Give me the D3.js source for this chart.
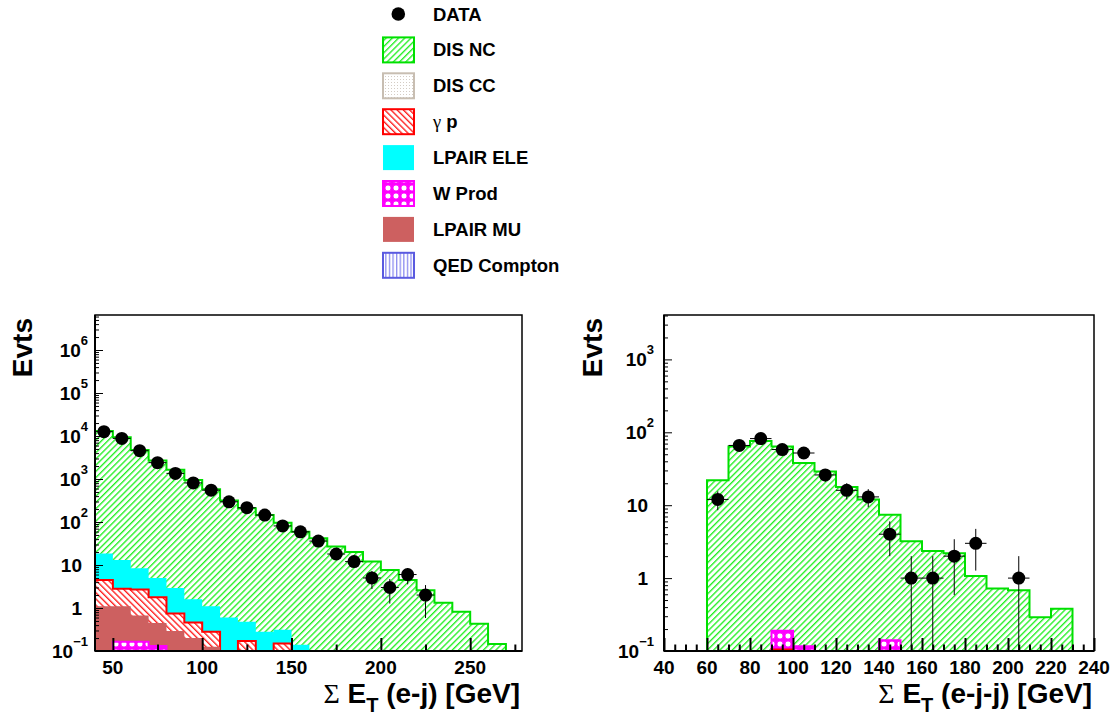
<!DOCTYPE html>
<html><head><meta charset="utf-8">
<script src="https://cdn.jsdelivr.net/npm/d3@7"></script>
<style>
body{margin:0;background:#fff}
text{font-family:"Liberation Sans",Arial,sans-serif;font-weight:bold;fill:#000}
</style>
</head><body>
<svg id="c" width="1112" height="715"></svg>
<script>
// ---------------- DATA ----------------
// Left panel: Sum E_T (e-j), 10 GeV bins. Histogram values are stacked (cumulative) heights.
const leftBinLow = [40,50,60,70,80,90,100,110,120,130,140,150,160,170,180,190,200,210,220,230,240,250,260];
const leftStackNC = [13000,9300,4700,2700,1650,950,580,316,210,145,96,59,42,27,20,12,7.7,4.5,2.6,1.33,0.82,0.43,0.146];
const leftStackLpairEle = [18.6,13,8.4,5,2.9,1.6,1.1,0.6,0.48,0.28,0.31,0.14,0,0,0,0,0,0,0,0,0,0,0];
const leftStackGammaP = [4.5,2.8,2.7,1.77,0.74,0.46,0.28,0,0.17,0,0.15,0,0,0,0,0,0,0,0,0,0,0,0];
const leftStackLpairMu = [1.1,1.1,0.67,0.45,0.29,0.2,0.125,0,0,0,0,0,0,0,0,0,0,0,0,0,0,0,0];
const leftStackWProd = [0,0.165,0.165,0.13,0,0,0,0,0,0,0,0,0,0,0,0,0,0,0,0,0,0,0];
const leftDataX = [45,55,65,75,85,95,105,115,125,135,145,155,165,175,185,195,205,215,225];
const leftDataY = [12600,8800,4550,2400,1350,810,550,295,215,145,81,59,36,18,12,5,3,6,2];

// Right panel: Sum E_T (e-j-j)
const rightBinLow = [60,70,80,90,100,110,120,130,140,150,160,170,180,190,200,210,220];
const rightStackNC = [22,64,76,64,38,29,17.8,12,7.4,3.2,2.35,2.2,1.07,0.72,0.68,0.29,0.38];
const rightStackWProd = [0,0,0,0.19,0.116,0,0,0,0.14,0,0,0,0,0,0,0,0];
const rightStackGammaP = [0,0,0,0.105,0,0,0,0,0,0,0,0,0,0,0,0,0];
const rightDataX = [65,75,85,95,105,115,125,135,145,155,165,175,185,205];
const rightDataY = [12,66,82,58,52,26,16,13,4,1,1,2,3,1];

// Axis ticks / labels
const leftXTicks = [50,100,150,200,250];
const leftXMinor = [75,125,175,225,275];
const rightXTicks = [40,60,80,100,120,140,160,180,200,220,240];
const leftYPowers = [-1,0,1,2,3,4,5,6];
const rightYPowers = [-1,0,1,2,3];
const legendLabels = ["DATA","DIS NC","DIS CC","γ p","LPAIR ELE","W Prod","LPAIR MU","QED Compton"];

// ---------------- DRAWING ----------------
const svg = d3.select("#c");
const defs = svg.append("defs");

function stripes(id, color, angle, period, thick) {
  const p = defs.append("pattern").attr("id", id).attr("patternUnits","userSpaceOnUse")
    .attr("width", period).attr("height", period)
    .attr("patternTransform", `rotate(${angle})`);
  p.append("rect").attr("width",period).attr("height",period).attr("fill","#ffffff");
  p.append("rect").attr("x",0).attr("y",0).attr("width",thick).attr("height",period).attr("fill",color);
}
stripes("hNC", "#22f022", 45, 4.4, 1.35);
stripes("hGP", "#ff1a1a", -45, 4.4, 1.35);
stripes("hQED", "#8c8cf0", 0, 3.6, 1.3);
{
  const p = defs.append("pattern").attr("id","hCC").attr("patternUnits","userSpaceOnUse").attr("width",3).attr("height",3);
  p.append("rect").attr("width",3).attr("height",3).attr("fill","#ffffff");
  p.append("rect").attr("x",1).attr("y",1).attr("width",1).attr("height",1).attr("fill","#d4ccc4");
}
{
  const p = defs.append("pattern").attr("id","hW").attr("patternUnits","userSpaceOnUse").attr("width",8).attr("height",8);
  p.append("rect").attr("width",8).attr("height",8).attr("fill","#ff00ff");
  p.append("circle").attr("cx",4).attr("cy",4).attr("r",3).attr("fill","#ffffff").attr("stroke","#ff00ff").attr("stroke-width",0.8);
}

const styles = {
  nc:   {fill:"url(#hNC)", stroke:"#00e000"},
  ele:  {fill:"#00ffff", stroke:null},
  gp:   {fill:"url(#hGP)", stroke:"#ff0000"},
  mu:   {fill:"#cd6060", stroke:null},
  w:    {fill:"url(#hW)", stroke:"#ff00ff"},
  cc:   {fill:"url(#hCC)", stroke:"#c8beb2"},
  qed:  {fill:"url(#hQED)", stroke:"#5a5ae0"}
};

function drawPanel(cfg, id) {
  const x = d3.scaleLinear().domain(cfg.xDomain).range([cfg.left, cfg.right]);
  const y = d3.scaleLog().domain(cfg.yDomain).range([cfg.bottom, cfg.top]);
  const ymin = cfg.yDomain[0];
  defs.append("clipPath").attr("id","clip"+id).append("rect")
    .attr("x",cfg.left).attr("y",cfg.top).attr("width",cfg.right-cfg.left).attr("height",cfg.bottom-cfg.top);
  const g = svg.append("g");
  const plot = g.append("g").attr("clip-path",`url(#clip${id})`);

  const line = d3.line().x(d=>x(d[0])).y(d=>y(d[1])).curve(d3.curveStepAfter);
  function pts(vals) {
    const n = cfg.binLow.length;
    const hi = cfg.binLow[n-1] + cfg.binWidth;
    const p = [[cfg.binLow[0], ymin]];
    cfg.binLow.forEach((lo,i)=>p.push([lo, Math.max(vals[i], ymin)]));
    p.push([hi, Math.max(vals[n-1], ymin)]);
    p.push([hi, ymin]);
    return p;
  }
  cfg.series.forEach(s => {
    const st = styles[s.style];
    plot.append("path").attr("d", line(pts(s.values)) + "Z")
      .attr("fill", st.fill)
      .attr("stroke", st.stroke || "none")
      .attr("stroke-width", 2).attr("stroke-linejoin","miter");
  });

  // data points with errors
  const dg = plot.append("g");
  cfg.dataX.forEach((xv,i) => {
    const n = cfg.dataY[i], e = Math.sqrt(n);
    const lo = Math.max(n - e, ymin), hi = n + e;
    dg.append("line").attr("x1",x(xv)).attr("x2",x(xv)).attr("y1",y(lo)).attr("y2",y(hi))
      .attr("stroke","#000").attr("stroke-width",1);
    dg.append("line").attr("x1",x(xv-cfg.binWidth/2)).attr("x2",x(xv+cfg.binWidth/2))
      .attr("y1",y(n)).attr("y2",y(n)).attr("stroke","#000").attr("stroke-width",1);
  });
  dg.selectAll("circle").data(cfg.dataX).join("circle")
    .attr("cx", d=>x(d)).attr("cy",(d,i)=>y(cfg.dataY[i])).attr("r",6.5).attr("fill","#000");

  // frame
  g.append("rect").attr("x",cfg.left).attr("y",cfg.top).attr("width",cfg.right-cfg.left)
    .attr("height",cfg.bottom-cfg.top).attr("fill","none").attr("stroke","#000").attr("stroke-width",1.5);

  // y ticks (inside)
  const allY = y.ticks();
  const majY = cfg.yPowers.map(p=>Math.pow(10,p));
  const minY = allY.filter(v => !majY.some(m => Math.abs(m - v)/m < 1e-6));
  const axY1 = d3.axisLeft(y).tickValues(minY).tickSize(-4).tickSizeOuter(0).tickFormat("");
  const axY2 = d3.axisLeft(y).tickValues(majY).tickSize(-8).tickSizeOuter(0).tickFormat("");
  [axY1, axY2].forEach(ax => {
    const a = g.append("g").attr("transform",`translate(${cfg.left},0)`).call(ax);
    a.select(".domain").remove();
    a.selectAll("line").attr("stroke","#000").attr("stroke-width",1);
  });
  // x ticks (inside)
  const axX1 = d3.axisBottom(x).tickValues(cfg.xMinor).tickSize(-6.5).tickSizeOuter(0).tickFormat("");
  const axX2 = d3.axisBottom(x).tickValues(cfg.xTicks).tickSize(-13).tickSizeOuter(0).tickFormat("");
  [axX1, axX2].forEach(ax => {
    const a = g.append("g").attr("transform",`translate(0,${cfg.bottom})`).call(ax);
    a.select(".domain").remove();
    a.selectAll("line").attr("stroke","#000").attr("stroke-width",2);
  });
  // axis lines
  g.append("line").attr("x1",cfg.left).attr("x2",cfg.right).attr("y1",cfg.bottom).attr("y2",cfg.bottom)
    .attr("stroke","#000").attr("stroke-width",2);
  g.append("line").attr("x1",cfg.left).attr("x2",cfg.left).attr("y1",cfg.top).attr("y2",cfg.bottom)
    .attr("stroke","#000").attr("stroke-width",2);

  // x tick labels
  g.selectAll(".xl").data(cfg.xTicks).join("text")
    .attr("x", d=>x(d)).attr("y", cfg.bottom + 23).attr("text-anchor","middle")
    .attr("font-size",19).text(d=>d);
  // y tick labels
  cfg.yPowers.forEach(p => {
    const yy = y(Math.pow(10,p));
    if (p === 0 || p === 1) {
      g.append("text").attr("x", cfg.plainEnd).attr("y", yy + 6.5).attr("text-anchor","end")
        .attr("font-size",19).text(p === 0 ? "1" : "10");
    } else {
      const t = g.append("text").attr("x", cfg.supEnd).attr("y", yy + 6.5).attr("text-anchor","end")
        .attr("font-size",19);
      t.append("tspan").text("10");
      t.append("tspan").attr("dy",-11.5).attr("font-size",13).text(String(p).replace("-","−"));
    }
  });
  // y title
  svg.append("text").attr("transform",`translate(${cfg.ytitleX},318) rotate(-90)`)
    .attr("text-anchor","end").attr("font-size",28).text("Evts");
  // x title
  const xt = svg.append("text").attr("x", cfg.xtitleEnd).attr("y", 703).attr("text-anchor","end").attr("font-size",28);
  xt.append("tspan").attr("font-family","'Liberation Serif',serif").attr("font-weight","normal").text("Σ");
  xt.append("tspan").text(" E");
  xt.append("tspan").attr("font-size",20).attr("dy",9).text("T");
  xt.append("tspan").attr("dy",-9).text(" " + cfg.xtitleRest);
}

drawPanel({
  left:95, right:522, top:315, bottom:651,
  xDomain:[40,279], yDomain:[0.1, Math.pow(10,6.814)],
  binLow:leftBinLow, binWidth:10,
  series:[
    {style:"nc", values:leftStackNC},
    {style:"ele", values:leftStackLpairEle},
    {style:"gp", values:leftStackGammaP},
    {style:"mu", values:leftStackLpairMu},
    {style:"w", values:leftStackWProd}
  ],
  dataX:leftDataX, dataY:leftDataY,
  xTicks:leftXTicks, xMinor:leftXMinor, yPowers:leftYPowers,
  plainEnd:82, supEnd:88, ytitleX:32, xtitleEnd:520, xtitleRest:"(e-j) [GeV]"
}, 1);

const rightMinor = d3.range(45, 240, 5).filter(v => v % 20 !== 0);
drawPanel({
  left:664, right:1094, top:315, bottom:651,
  xDomain:[40,240], yDomain:[0.1, Math.pow(10,3.609)],
  binLow:rightBinLow, binWidth:10,
  series:[
    {style:"nc", values:rightStackNC},
    {style:"w", values:rightStackWProd},
    {style:"gp", values:rightStackGammaP}
  ],
  dataX:rightDataX, dataY:rightDataY,
  xTicks:rightXTicks, xMinor:rightMinor, yPowers:rightYPowers,
  plainEnd:648, supEnd:654, ytitleX:602, xtitleEnd:1092, xtitleRest:"(e-j-j) [GeV]"
}, 2);

// ---------------- LEGEND ----------------
const legendStyles = [null,"nc","cc","gp","ele","w","mu","qed"];
const lg = svg.append("g");
legendLabels.forEach((lab,i) => {
  const cy = 14 + i*35.9;
  if (i === 0) {
    lg.append("circle").attr("cx",398.3).attr("cy",cy).attr("r",6.8).attr("fill","#000");
  } else {
    const st = styles[legendStyles[i]];
    lg.append("rect").attr("x",383).attr("y",cy-12.5).attr("width",31).attr("height",25)
      .attr("fill",st.fill).attr("stroke", st.stroke || "none").attr("stroke-width",2);
  }
  const t = lg.append("text").attr("x",433).attr("y",cy+6.5).attr("font-size",18.5);
  if (lab.startsWith("γ")) {
    t.append("tspan").attr("font-family","'Liberation Serif',serif").attr("font-weight","normal").text("γ");
    t.append("tspan").text(lab.slice(1));
  } else t.text(lab);
});
</script>
</body></html>
